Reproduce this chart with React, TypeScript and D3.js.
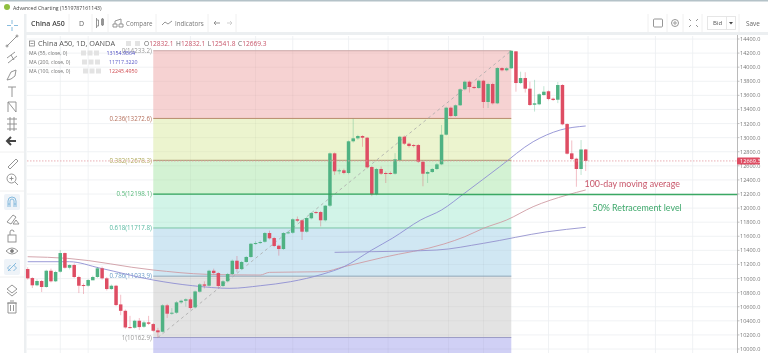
import React from "react";
import * as d3 from "d3";

const opens = [11135,11007,10904,10965,10880,11111,10961,11097,11362,11153,11192,11022,10908,10898,10975,11022,11145,11003,10851,10898,10633,10542,10311,10302,10401,10316,10378,10354,10265,10245,10620,10501,10515,10662,10685,10705,10591,10813,10917,10898,11111,11078,10894,10961,11064,11253,11135,11235,11306,11494,11504,11522,11646,11575,11466,11419,11646,11650,11841,11827,11665,11855,11944,11944,11827,12034,12777,12522,12536,12498,12948,12990,13023,12999,12583,12196,12555,12498,12498,12488,12682,13013,12914,12895,12895,12658,12488,12512,12555,12621,13042,13425,13307,13459,13686,13794,13719,13704,13808,13506,13761,13487,13988,13956,13984,14225,13775,13846,13695,13467,13473,13605,13658,13553,13538,13747,13193,12777,12701,12555,12832.1];
const closes = [11003,10904,10965,10880,11111,10961,11093,11362,11153,11192,11022,10898,10894,10979,11022,11145,11003,10851,10898,10624,10542,10306,10302,10401,10311,10378,10358,10259,10237,10620,10501,10515,10662,10685,10705,10582,10817,10917,10898,11111,11078,10894,10961,11064,11253,11135,11235,11306,11494,11504,11518,11646,11571,11462,11419,11646,11656,11841,11821,11665,11859,11930,11930,11827,12034,12777,12522,12536,12498,12948,12990,13023,12999,12579,12196,12555,12488,12484,12488,12692,13013,12914,12881,12885,12658,12488,12512,12555,12621,13042,13425,13307,13459,13686,13794,13719,13704,13808,13506,13761,13487,13988,13956,13984,14233,13775,13846,13695,13463,13487,13615,13652,13548,13534,13747,13189,12772,12696,12555,12832,12669.3];
const highs = [11160,11020,10990,10980,11125,11140,11110,11405,11370,11200,11215,11040,10930,10995,11040,11165,11170,11020,10915,10910,10770,10560,10470,10415,10440,10400,10470,10370,10300,10635,10640,10580,10680,10700,10720,10730,10830,10935,10960,11125,11140,11090,10980,11080,11270,11320,11250,11320,11505,11530,11540,11660,11680,11590,11480,11660,11680,11855,11880,11840,11875,11945,11960,11960,12045,12790,12790,12560,12560,12960,13270,13040,13035,13010,12600,12570,12590,12520,12520,12780,13025,13030,12930,12910,12910,12670,12530,12570,12640,13180,13440,13440,13470,13700,13810,13810,13740,13825,13820,13780,13780,14000,14000,14000,14233,14225,13936,13928,13794,13820,13630,13730,13670,13570,13790,13760,13205,12960,12715,12966,12840];
const lows = [10985,10865,10890,10808,10870,10945,10950,11085,11140,11130,11005,10794,10780,10885,11010,11010,10985,10830,10840,10610,10480,10290,10290,10290,10270,10300,10340,10245,10163,10235,10440,10485,10500,10640,10600,10560,10575,10800,10860,10885,11060,10860,10880,10945,11050,11090,11120,11225,11295,11480,11490,11510,11555,11445,11325,11405,11630,11635,11800,11547,11650,11840,11915,11740,11810,12015,12470,12480,12480,12480,12930,12970,12870,12560,12170,12180,12470,12356,12475,12475,12665,12895,12860,12860,12640,12310,12356,12500,12540,12610,13030,13290,13295,13450,13670,13640,13690,13695,13420,13420,13470,13475,13940,13940,13975,13652,13760,13640,13450,13370,13460,13595,13530,13520,13490,13175,12760,12680,12303,12470,12526];

const ma100Idx = [0,8.5,27,38.5,50,52,63.5,68,76.5,89.5,94,98,103,108.7,116,120];
const ma100Val = [11310,11287,11121,11060,11050,11088,11097,11168,11301,11490,11594,11713,11831,12020,12186,12257];
const ma55Idx = [0,9,15.5,27,35.5,43.5,50,56.5,63.5,68,74,78.5,84.5,89,94,101.5,108.7,114.5,120];
const ma55Val = [11239,11239,11149,10979,10898,10861,10898,10955,11064,11168,11405,11575,11831,11973,12214,12587,12942,13108,13165];
const ma200Idx = [66,74,88,98,111.7,120];
const ma200Val = [11372,11381,11405,11500,11664,11727];

const yTicks = d3.range(10000, 14401, 200);
const gridIdx = [7,13,35,49,57,69,77.5,90.5,98,112,120.5,135,143];

const fibLevels = ["0","0.236","0.382","0.5","0.618","0.786","1"];
const fibValues = [14233.2,13272.6,12678.3,12198.1,11717.8,11033.9,10162.9];
const fibFills = ["#f6d2d2","#ecf4cf","#d3f2d3","#d2f4e8","#d0e7f3","#e3e3e3","#d0d0f5"];
const fibLines = ["#c9a5a5","#b88c6c","#a8946a","#2fa35a","#7cc4a6","#8ea6b8","#9c9cc6"];
const fibText = ["#999","#b5705c","#b0a95a","#55b878","#55b8a0","#6a9cc8","#999"];

const legendNames = ["MA (55, close, 0)","MA (200, close, 0)","MA (100, close, 0)"];
const legendValues = ["13154.9564","11717.3220","12245.4950"];
const legendColors = ["#4a4ac0","#5a5ac8","#d04a50"];

const F = "'Open Sans', sans-serif";
const GREEN = "#4fb283";
const RED = "#de4d63";

const x = d3.scaleLinear().domain([0, 120]).range([27.7, 585.7]);
const y = d3.scaleLinear().domain([10000, 14400]).range([349, 39]);

const path = (idx: number[], val: number[]) =>
  d3.line<number>().x((_, i) => x(idx[i])).y((v) => y(v)).curve(d3.curveMonotoneX)(val) || "";

const PANE_L = 27, PANE_R = 737, BOT = 353;
const ic = { fill: "none", stroke: "#8a8a8a", strokeWidth: 0.9 };

function Icons() {
  return (
    <g {...ic}>
      <g stroke="#7ab4da"><path d="M12 20v4M12 27v4M7 25.5h4M14 25.5h4" /></g>
      <path d="M7 46L17 36" /><circle cx="7" cy="46" r="1" /><circle cx="17" cy="36" r="1" />
      <path d="M7 58l8-6M8 63l9-7M11 55l3 5" />
      <path d="M7 80l4-8 5-2-1 6-4 3z" />
      <path d="M8 87h8M12 87v10" />
      <path d="M8 112V102l8 10V102M8 102l8 0" />
      <path d="M7 119h10M7 124h10M7 129h10M10 117v14M14 117v14" />
      <path d="M7 141h9M11 137l-4 4 4 4" strokeWidth="2" stroke="#444" />
      <path d="M8 167l8-8 2 2-8 8z" />
      <circle cx="11.500" cy="178.500" r="4.500" /><path d="M15 182l3 3M9.500 178.500h4M11.500 176.500v4" />
      <rect x="4" y="194" width="16" height="16" rx="2" fill="#eef3f8" stroke="none" />
      <path d="M8 207v-6a4 4 0 0 1 8 0v6M8 204h2M14 204h2M10 207v-6a2 2 0 0 1 4 0v6" stroke="#7ab4da" />
      <path d="M7 222l6-7 3 2-5 7zM13 224l3-4 3 4z" />
      <rect x="8" y="235" width="8" height="7" /><path d="M10 235v-3a2 2 0 0 1 4 0" />
      <path d="M6 251q6-6 12 0q-6 6-12 0z" /><circle cx="12" cy="251" r="1.500" fill="#777" />
      <rect x="4" y="259" width="16" height="16" rx="2" fill="#eef3f8" stroke="none" />
      <path d="M8 271l8-8M7.500 268l3-3M13.500 271l3-3M7.500 268l3 3M13.500 265l3 3" stroke="#7ab4da" />
      <path d="M7 289l5-4 5 4-5 4zM7 292l5 4 5-4" />
      <path d="M8 303h8v10H8zM7 303h10M10 301h4M10.500 305v6M13.500 305v6" />
      <path d="M0 152H24M0 191H24M0 277H24" stroke="#eee" />
    </g>
  );
}

export default function App() {
  const fibL = x(27), fibR = x(104);
  const last = closes[closes.length - 1];
  const lastY = y(last);
  const hBand = [...fibValues.map((v) => y(v)), BOT];
  const price = "#c8566a";
  return (
    <svg width={768} height={353} style={{ position: "fixed", left: 0, top: 0, background: "#fff", fontFamily: F, filter: "blur(0.35px)" }}>
      <rect x={0} y={0} width={768} height={1.500} fill="#b4c2c8" />
      <circle cx={7} cy={7} r={3} fill="#8fbf3f" />
      <text x={13} y={9.500} fontSize={5.200} fill="#444">Advanced Charting (1519787161143)</text>

      {/* frame bands */}
      <rect x={24} y={14} width={2.500} height={339} fill="#eceff1" />
      <rect x={26} y={32} width={742} height={3} fill="#eceff1" />
      <rect x={738} y={35} width={30} height={318} fill="#fff" />

      {/* top toolbar */}
      <g fill="#444" fontSize={7}>
        <text x={31} y={25.500} fontWeight={600}>China A50</text>
        <text x={79} y={25.500} fill="#666">D</text>
        <text x={126} y={25.500} fill="#777" fontSize={6.200}>Compare</text>
        <text x={175} y={25.500} fill="#777" fontSize={6.200}>Indicators</text>
      </g>
      <g {...ic} stroke="#8a8a8a">
        <path d="M96.500 18v10M96.500 20h2v6h-2M101.500 19h2v6h-2zM102.500 18v8" />
        <path d="M113 27h4v-3h-4zM119 27h4v-3h-4zM115 24v-3l6-2v5" />
        <path d="M162 25l3-3 3 2 4-3" />
        <path d="M214 23h6M214 23l2-2M214 23l2 2" />
        <path d="M232 23h-5M232 23l-2-2M232 23l-2 2" stroke="#ccc" />
        <rect x={653.500} y={19} width={9} height={8} rx={1} />
        <circle cx={675} cy={23} r={3.500} /><circle cx={675} cy={23} r={1.200} />
        <path d="M689 19l2 2M698 19l-2 2M689 27l2-2M698 27l-2-2" />
        <rect x={707.500} y={16.500} width={28} height={13} stroke="#e4e4e4" />
        <path d="M726.500 16.500v13" stroke="#e4e4e4" />
      </g>
      <path d="M729 22h4l-2 2.500z" fill="#444" />
      <text x={713} y={25} fontSize={6} fill="#555">Bid</text>
      <text x={746} y={25.500} fontSize={6.400} fill="#666">Save</text>
      <path d="M69 14v18M92 14v18M108 14v18M156 14v18M208 14v18M236 14v18M648 14v18M667 14v18M683 14v18M702 14v18M739 14v18" stroke="#f0f0f0" />

      <Icons />

      {/* grid */}
      <g stroke="#eceff1" strokeWidth={0.8}>
        {yTicks.map((t) => <line key={t} x1={PANE_L} x2={PANE_R} y1={y(t)} y2={y(t)} />)}
        {gridIdx.map((g) => <line key={g} x1={x(g)} x2={x(g)} y1={36} y2={BOT} />)}
      </g>

      {/* fibonacci bands */}
      {fibFills.map((c, i) => (
        <rect key={c} x={fibL} width={fibR - fibL} y={hBand[i]} height={hBand[i + 1] - hBand[i]} fill={c} />
      ))}
      <g stroke="#000" strokeOpacity={0.045} strokeWidth={0.8}>
        {yTicks.filter((t) => t < 14233).map((t) => <line key={t} x1={fibL} x2={fibR} y1={y(t)} y2={y(t)} />)}
        {gridIdx.filter((g) => x(g) > fibL && x(g) < fibR).map((g) => (
          <line key={g} x1={x(g)} x2={x(g)} y1={y(14233.2)} y2={BOT} />
        ))}
      </g>
      {fibLevels.map((l, i) => (
        <g key={l}>
          {i !== 3 && <line x1={fibL} x2={fibR} y1={y(fibValues[i])} y2={y(fibValues[i])} stroke={fibLines[i]} strokeWidth={1} />}
          <text x={fibL - 1.500} y={y(fibValues[i]) + 2.200} textAnchor="end" fontSize={6.200} fill={fibText[i]}>
            {l}({fibValues[i].toFixed(1)})
          </text>
        </g>
      ))}
      <line x1={x(28)} y1={y(10162.9)} x2={x(104)} y2={y(14233.2)} stroke="#aaa" strokeWidth={0.8} strokeDasharray="3 3" />

      {/* moving averages */}
      <g fill="none" strokeWidth={0.9}>
        <path d={path(ma100Idx, ma100Val)} stroke="#cf9ca4" />
        <path d={path(ma55Idx, ma55Val)} stroke="#8e8ed2" />
        <path d={path(ma200Idx, ma200Val)} stroke="#9492ce" />
      </g>

      {/* candles */}
      {opens.map((o, i) => {
        const c = closes[i];
        const col = c >= o ? GREEN : RED;
        const top = y(Math.max(o, c));
        const bot = y(Math.min(o, c));
        return (
          <g key={i}>
            <line x1={x(i)} x2={x(i)} y1={y(highs[i])} y2={y(lows[i])} stroke={col} strokeOpacity={0.4} strokeWidth={0.9} />
            <rect x={x(i) - 1.750} width={3.500} y={top} height={Math.max(bot - top, 1)} fill={col} />
          </g>
        );
      })}

      {/* 50% retracement level */}
      <line x1={fibL} x2={x(90.5)} y1={y(12198.1)} y2={y(12198.1)} stroke="#2fa35a" strokeWidth={1.300} />
      <line x1={x(90.5)} x2={738} y1={y(12192)} y2={y(12192)} stroke="#3aa863" strokeWidth={1.500} />

      {/* last price */}
      <line x1={PANE_L} x2={PANE_R} y1={lastY} y2={lastY} stroke="#e39aa2" strokeWidth={0.8} strokeDasharray="1.500 1.500" />

      {/* axis */}
      <line x1={737.500} x2={737.500} y1={35} y2={BOT} stroke="#a8a8a8" strokeWidth={0.8} />
      {yTicks.map((t) => (
        <g key={t}>
          <line x1={737.500} x2={739.500} y1={y(t)} y2={y(t)} stroke="#aaa" strokeWidth={0.7} />
          <text x={740} y={y(t) + 2} fontSize={5.500} fill="#777">{t.toFixed(1)}</text>
        </g>
      ))}
      <rect x={737} y={157.500} width={23} height={7} rx={1} fill="#de4d63" />
      <text x={740} y={163.200} fontSize={5.600} fill="#fff">{last.toFixed(1)}</text>

      {/* header */}
      <rect x={29.500} y={41} width={5} height={5} fill="none" stroke="#777" strokeWidth={0.7} />
      <path d="M30.500 43.500h3" stroke="#777" strokeWidth={0.7} />
      <text x={38} y={46.400} fontSize={7.300} fill="#555">China A50, 1D, OANDA</text>
      <g fill="#e3e3e3">
        <rect x={126} y={41} width={5} height={5} /><rect x={135} y={41} width={5} height={5} />
      </g>
      <text x={144} y={46.400} fontSize={6.600} fill="#666">
        O<tspan fill={price}>12832.1</tspan>
        <tspan dx={2.500}>H</tspan><tspan fill={price}>12832.1</tspan>
        <tspan dx={2.500}>L</tspan><tspan fill={price}>12541.8</tspan>
        <tspan dx={2.500}>C</tspan><tspan fill={price}>12669.3</tspan>
      </text>
      {legendNames.map((n, i) => (
        <g key={n}>
          <text x={29} y={55 + i * 9} fontSize={5.100} fill="#777">{n}</text>
          {[0, 1, 2].map((b) => (
            <rect key={b} x={81 + i + b * 6.500} y={50.500 + i * 9} width={5} height={5} fill="#e3e3e3" />
          ))}
          <text x={i === 0 ? 106.500 : 109} y={55 + i * 9} fontSize={5.300} fill={legendColors[i]}>{legendValues[i]}</text>
        </g>
      ))}

      {/* annotations */}
      <text x={584.500} y={187} fontSize={8.850} fill="#c8566a" fontFamily="Lato, sans-serif">100-day moving average</text>
      <text x={592.500} y={211} fontSize={8.850} fill="#3fa96c" fontFamily="Lato, sans-serif">50% Retracement level</text>
    </svg>
  );
}
